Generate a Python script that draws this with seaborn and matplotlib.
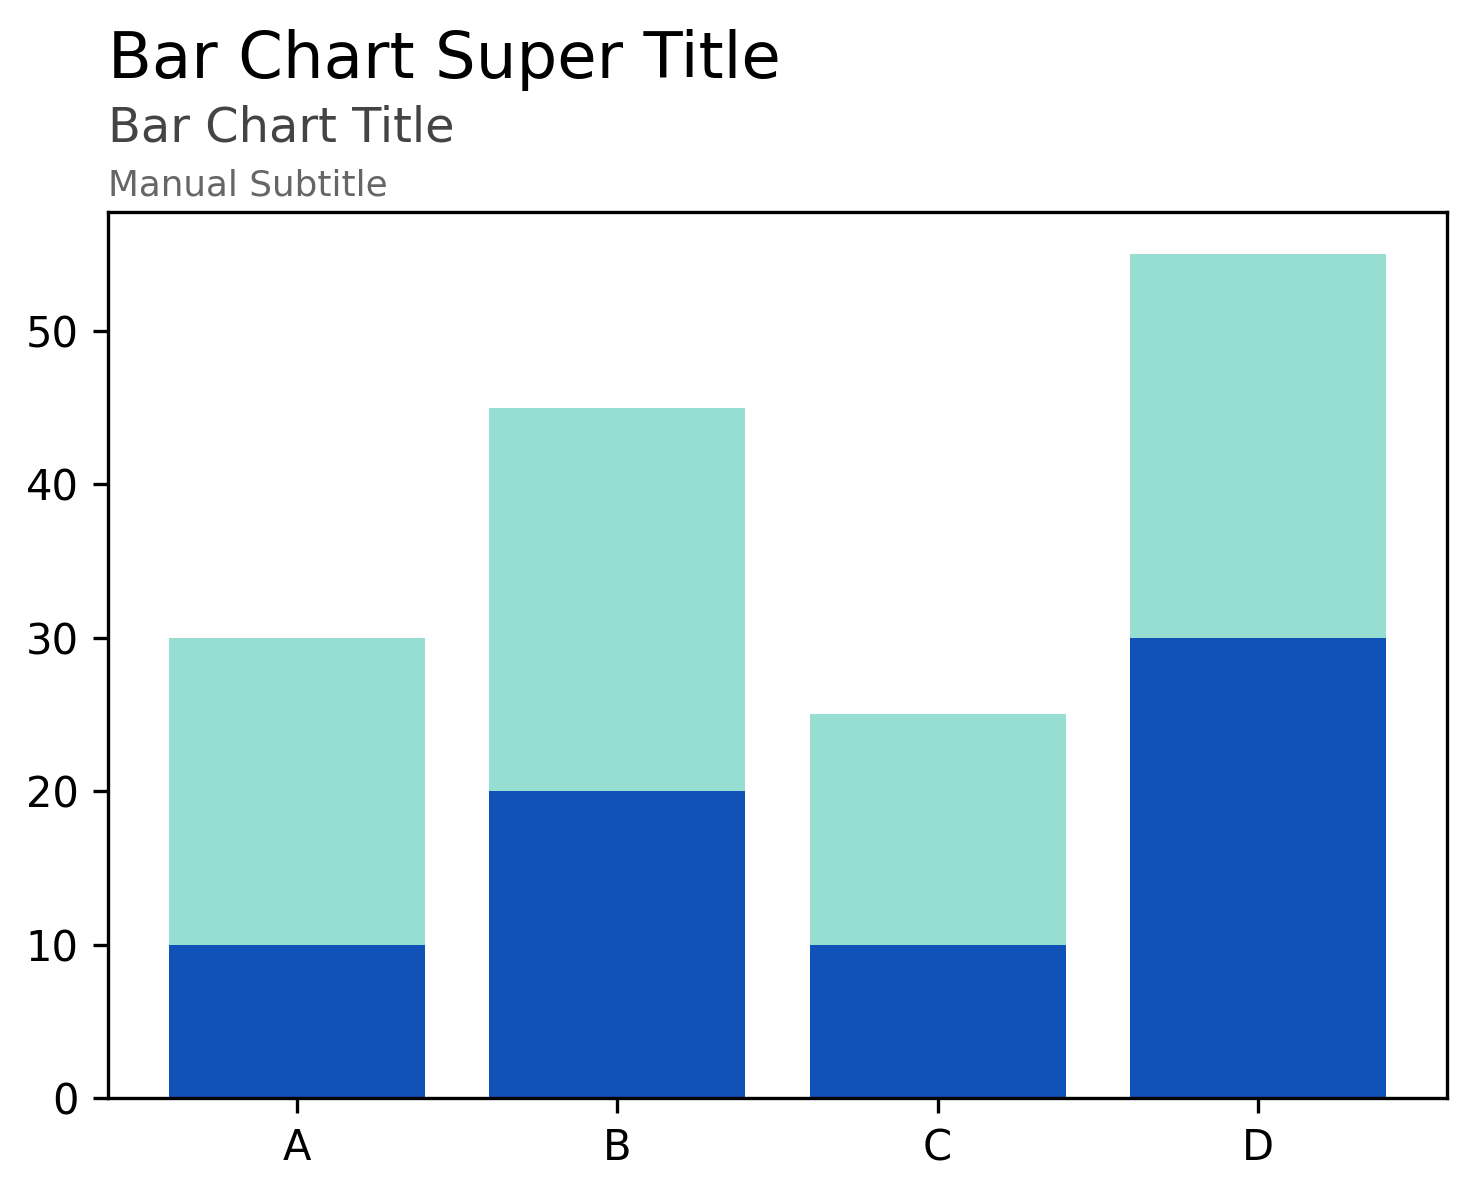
import matplotlib
matplotlib.use("Agg")
import matplotlib.pyplot as plt
import seaborn as sns
import pandas as pd

categories = ["A", "B", "C", "D"]
bottom_values = [10, 20, 10, 30]
top_values = [20, 25, 15, 25]

data = pd.DataFrame({
    "Category": categories,
    "Bottom": bottom_values,
    "Top": top_values,
})
data["Total"] = data["Bottom"] + data["Top"]

fig = plt.figure(figsize=(1475 / 300, 1196 / 300), dpi=300)
ax = fig.add_axes([108 / 1475, 1 - 1098 / 1196, (1447 - 108) / 1475, (1098 - 212) / 1196])

# stacked look: total behind, bottom part in front
sns.barplot(data=data, x="Category", y="Total", color="#97DED2", saturation=1, width=0.8, ax=ax)
sns.barplot(data=data, x="Category", y="Bottom", color="#1052B8", saturation=1, width=0.8, ax=ax)

ax.set_xlim(-0.59, 3.59)
ax.set_ylim(0, 57.75)
ax.set_xlabel("")
ax.set_ylabel("")
ax.tick_params(labelsize=10)

x0 = 108 / 1475
fig.text(x0, 1 - 78 / 1196, "Bar Chart Super Title", fontsize=15.4, color="black", va="baseline", ha="left")
fig.text(x0, 1 - 142 / 1196, "Bar Chart Title", fontsize=11.5, color="#444444", va="baseline", ha="left")
fig.text(x0, 1 - 196 / 1196, "Manual Subtitle", fontsize=8.6, color="#666666", va="baseline", ha="left")

plt.savefig("out.png", dpi=300)
